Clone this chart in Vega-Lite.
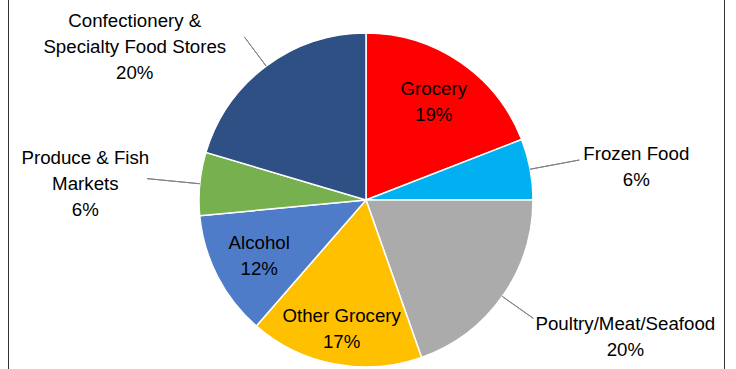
{
  "$schema": "https://vega.github.io/schema/vega-lite/v6.json",
  "width": 716,
  "height": 440,
  "autosize": "none",
  "padding": {"left": 8, "top": -20, "right": 12, "bottom": 0},
  "background": "white",
  "config": {
    "view": {"stroke": null},
    "text": {"font": "Liberation Sans", "fontSize": 18.7, "color": "black", "lineHeight": 26, "lineBreak": "\n", "align": "center", "baseline": "middle"}
  },
  "layer": [
    {
      "data": {
        "values": [
          {"cat": "Grocery", "value": 19.1, "label": "Grocery\n19%"},
          {"cat": "Frozen Food", "value": 5.9, "label": "Frozen Food\n6%"},
          {"cat": "Poultry/Meat/Seafood", "value": 19.6, "label": "Poultry/Meat/Seafood\n20%"},
          {"cat": "Other Grocery", "value": 16.8, "label": "Other Grocery\n17%"},
          {"cat": "Alcohol", "value": 12.1, "label": "Alcohol\n12%"},
          {"cat": "Produce & Fish Markets", "value": 6.1, "label": "Produce & Fish\nMarkets\n6%"},
          {"cat": "Confectionery & Specialty Food Stores", "value": 20.4, "label": "Confectionery &\nSpecialty Food Stores\n20%"}
        ]
      },
      "transform": [{"window": [{"op": "row_number", "as": "rank"}]}],
      "encoding": {
        "theta": {"field": "value", "type": "quantitative", "stack": true},
        "order": {"field": "rank", "type": "quantitative"},
        "detail": {"field": "cat", "type": "nominal"}
      },
      "layer": [
        {
          "mark": {"type": "arc", "outerRadius": 167, "stroke": "white", "strokeWidth": 1.5},
          "encoding": {
            "color": {
              "field": "cat", "type": "nominal", "legend": null,
              "scale": {
                "domain": ["Grocery", "Frozen Food", "Poultry/Meat/Seafood", "Other Grocery", "Alcohol", "Produce & Fish Markets", "Confectionery & Specialty Food Stores"],
                "range": ["#FF0000", "#00B0F0", "#ABABAB", "#FFC000", "#4F7CC8", "#77B14F", "#2F5084"]
              }
            }
          }
        },
        {
          "mark": {"type": "arc", "innerRadius": 167, "outerRadius": 217, "padAngle": 1.5, "filled": false, "color": "#808080", "strokeWidth": 1},
          "encoding": {"strokeOpacity": {"condition": {"test": "datum.cat === 'Frozen Food'", "value": 1}, "value": 0}}
        },
        {
          "mark": {"type": "arc", "innerRadius": 167, "outerRadius": 205, "padAngle": 1.5, "filled": false, "color": "#808080", "strokeWidth": 1},
          "encoding": {"strokeOpacity": {"condition": {"test": "datum.cat === 'Poultry/Meat/Seafood'", "value": 1}, "value": 0}}
        },
        {
          "mark": {"type": "arc", "innerRadius": 167, "outerRadius": 220, "padAngle": 1.5, "filled": false, "color": "#808080", "strokeWidth": 1},
          "encoding": {"strokeOpacity": {"condition": {"test": "datum.cat === 'Produce & Fish Markets'", "value": 1}, "value": 0}}
        },
        {
          "mark": {"type": "arc", "innerRadius": 167, "outerRadius": 203, "padAngle": 1.5, "filled": false, "color": "#808080", "strokeWidth": 1},
          "encoding": {"strokeOpacity": {"condition": {"test": "datum.cat === 'Confectionery & Specialty Food Stores'", "value": 1}, "value": 0}}
        },
        {
          "mark": {"type": "text", "radius": 120, "dy": -12},
          "encoding": {"text": {"condition": {"test": "datum.cat === 'Grocery' || datum.cat === 'Alcohol'", "field": "label"}, "value": ""}}
        },
        {
          "mark": {"type": "text", "radius": 130, "dy": -12},
          "encoding": {"text": {"condition": {"test": "datum.cat === 'Other Grocery'", "field": "label"}, "value": ""}}
        },
        {
          "mark": {"type": "text", "radius": 274, "dx": 1, "dy": 4},
          "encoding": {"text": {"condition": {"test": "datum.cat === 'Frozen Food'", "field": "label"}, "value": ""}}
        },
        {
          "mark": {"type": "text", "radius": 292, "dx": 21, "dy": -45},
          "encoding": {"text": {"condition": {"test": "datum.cat === 'Poultry/Meat/Seafood'", "field": "label"}, "value": ""}}
        },
        {
          "mark": {"type": "text", "radius": 283, "dx": 1, "dy": -14},
          "encoding": {"text": {"condition": {"test": "datum.cat === 'Produce & Fish Markets'", "field": "label"}, "value": ""}}
        },
        {
          "mark": {"type": "text", "radius": 278, "dx": -65, "dy": 44},
          "encoding": {"text": {"condition": {"test": "datum.cat === 'Confectionery & Specialty Food Stores'", "field": "label"}, "value": ""}}
        }
      ]
    },
    {
      "data": {"values": [{"edge": 0}, {"edge": 1}]},
      "mark": {"type": "rule", "color": "#333333", "strokeWidth": 1, "xOffset": 0.5},
      "encoding": {
        "x": {"field": "edge", "type": "quantitative", "scale": {"domain": [0, 1], "nice": false, "zero": false}, "axis": null}
      }
    }
  ]
}
